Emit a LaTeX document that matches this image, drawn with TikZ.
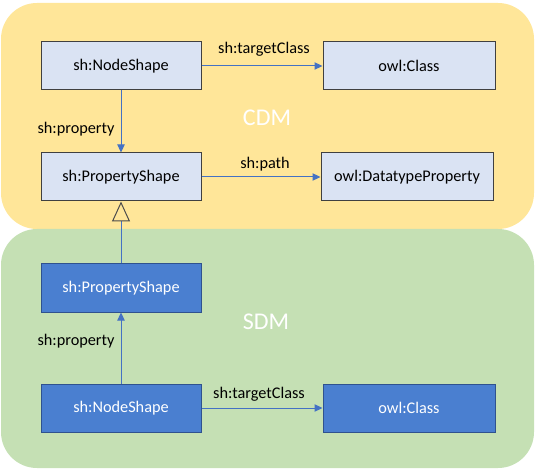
\documentclass[tikz,border=0pt]{standalone}
\usepackage{fontspec}
\setmainfont{Carlito}
\usetikzlibrary{arrows.meta}
\definecolor{cdmfill}{HTML}{FFE699}
\definecolor{sdmfill}{HTML}{C5E0B4}
\definecolor{lightbox}{HTML}{DAE3F3}
\definecolor{darkbox}{HTML}{4A7FD0}
\definecolor{darkboxline}{HTML}{2F528F}
\definecolor{linkblue}{HTML}{4472C4}
\begin{document}
\begin{tikzpicture}[x=0.75pt,y=-0.75pt,
  lbox/.style={draw=black!75, fill=lightbox, line width=0.75pt, minimum width=120pt, minimum height=36pt, inner sep=0pt, font=\fontsize{12.2}{14}\selectfont},
  dbox/.style={draw=darkboxline, fill=darkbox, text=white, line width=0.75pt, minimum width=120pt, minimum height=36pt, inner sep=0pt, font=\fontsize{12.2}{14}\selectfont},
  link/.style={draw=linkblue, line width=0.75pt, -{Triangle[width=5.5pt,length=6pt]}},
  lbl/.style={font=\fontsize{12.2}{14}\selectfont, inner sep=0pt},
  area/.style={font=\fontsize{18}{21}\selectfont, text=white, inner sep=0pt},
  region/.style={rounded corners=27pt}]
\useasboundingbox (0,0) rectangle (541,473);
\fill[cdmfill, region] (1,3) rectangle (534,229);
\fill[sdmfill, region] (1,229) rectangle (534,468);
\node[area] (cdm) at (267,118) {CDM};
\node[area] (sdm) at (266,322) {SDM};
\node[lbox] (cnode) at (121,66) {sh:NodeShape};
\node[lbox, minimum width=129pt] (cclass) at (409,66) {owl:Class};
\node[lbox] (cprop) at (121,177) {sh:PropertyShape};
\node[lbox, minimum width=129pt] (cdtp) at (407,177) {owl:DatatypeProperty};
\node[dbox] (sprop) at (121,288) {sh:PropertyShape};
\node[dbox] (snode) at (121,408) {sh:NodeShape};
\node[dbox, minimum width=129pt] (sclass) at (409,408) {owl:Class};
\draw[link] (cnode) -- (cclass);
\draw[link] (cnode) -- (cprop);
\draw[link] (cprop) -- (cdtp);
\draw[link] (snode) -- (sprop);
\draw[link] (snode) -- (sclass);
\draw[draw=linkblue, line width=0.75pt, -{Triangle[open, width=13.5pt, length=15pt, line width=0.75pt, color=black!70]}] (sprop) -- (cprop);
\node[lbl] (l1) at (264,49) {sh:targetClass};
\node[lbl] (l2) at (76,129) {sh:property};
\node[lbl] (l3) at (265,164) {sh:path};
\node[lbl] (l4) at (76,341) {sh:property};
\node[lbl] (l5) at (259,394) {sh:targetClass};
\end{tikzpicture}
\end{document}
